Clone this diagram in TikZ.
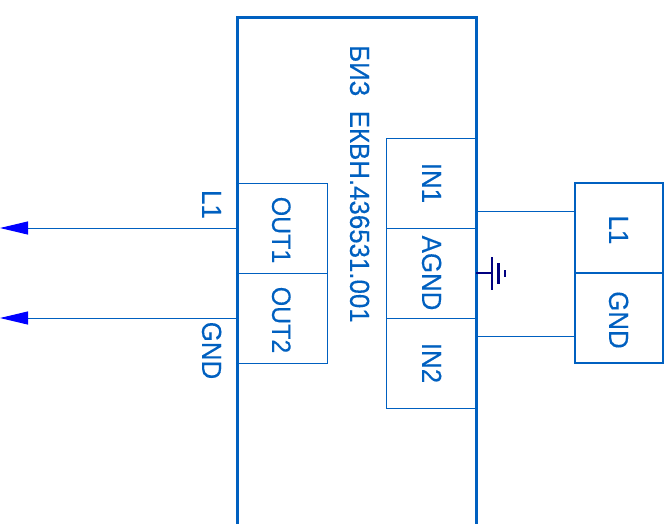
\documentclass[tikz,border=0pt]{standalone}
\usepackage{fontspec}
\setmainfont[FakeStretch=0.94,FakeBold=0.25]{Liberation Sans}
\usetikzlibrary{arrows.meta}
\definecolor{bl}{HTML}{0060C0}
\newcommand{\shiftd}[1]{\hspace*{#1pt}}
\tikzset{
  base/.style={draw=bl,line width=#1,inner sep=0pt,outer sep=0pt,text=bl,rotate=-90,
    font=\fontsize{27.5pt}{27.5pt}\selectfont,text height=19.7pt,text depth=0pt},
  pin/.style={base=1pt,minimum width=90pt,minimum height=90pt},
  conn/.style={base=2pt,minimum width=90pt,minimum height=88pt},
  lbl/.style={rotate=-90,inner sep=0pt,text=bl,font=\fontsize{27.5pt}{27.5pt}\selectfont,text height=19.7pt,text depth=0pt},
  wire/.style={draw=bl,line width=1pt},
  outwire/.style={wire,-{Triangle[length=28pt,width=13pt,color=blue,fill=blue]}},
  gnd/.style={draw=blue!50!black,line width=2.2pt}
}
\begin{document}
\begin{tikzpicture}[x=1pt,y=-1pt]
\useasboundingbox (0,0) rectangle (672,523);
\clip (0,0) rectangle (672,523);
\fill[white] (0,0) rectangle (672,523);
% main body (runs off the bottom)
\node[base=3pt,minimum width=540pt,minimum height=239pt] (main) at (356.5,287) {};
\node[lbl,anchor=west] (title) at (360,45) {БИЗ\ \ ЕКВН.436531.001};
% outputs
\node[pin] (out1) at (282,228) {\fontsize{26.5pt}{26.5pt}\selectfont\shiftd{4}OUT1};
\node[pin] (out2) at (282,318) {\fontsize{26.5pt}{26.5pt}\selectfont\shiftd{4}OUT2};
% inputs
\node[pin] (in1) at (431,183) {\raisebox{1pt}{IN1}};
\node[pin] (agnd) at (431,273) {\raisebox{1pt}{AGND}};
\node[pin] (in2) at (431,363) {\raisebox{1pt}{IN2}};
% connector
\node[conn] (cl1) at (619,228) {\shiftd{4}L1};
\node[conn] (cgnd) at (619,318) {\shiftd{4}GND};
% output wires
\coordinate (tip1) at (0,228);
\coordinate (tip2) at (0,318);
\draw[outwire] (out1.south) -- (tip1);
\draw[outwire] (out2.south) -- (tip2);
\node[lbl] (l1) at (212,204.5) {L1};
\node[lbl] (gndl) at (212,350.5) {GND};
% input wires
\draw[wire] (main.north |- 0,211) -- (cl1.south |- 0,211);
\draw[wire] (main.north |- 0,336) -- (cgnd.south |- 0,336);
% ground symbol
\coordinate (g1) at (492,273);
\coordinate (g2a) at (492,257);
\coordinate (g2b) at (492,290);
\coordinate (g3a) at (498.5,263);
\coordinate (g3b) at (498.5,284);
\coordinate (g4a) at (505,270);
\coordinate (g4b) at (505,277);
\draw[gnd] (agnd.north) -- (g1);
\draw[gnd] (g2a) -- (g2b);
\draw[gnd] (g3a) -- (g3b);
\draw[gnd] (g4a) -- (g4b);
\end{tikzpicture}
\end{document}
